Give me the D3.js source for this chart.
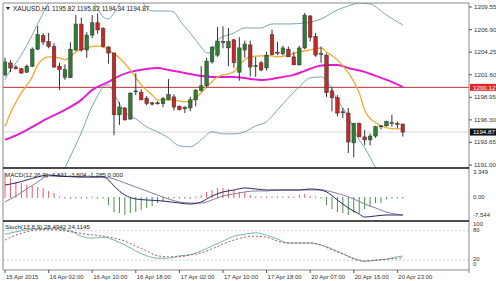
<!DOCTYPE html>
<html>
<head>
<meta charset="utf-8">
<script src="https://cdn.jsdelivr.net/npm/d3@7"></script>
<style>
  body { margin: 0; background: #fff; }
  text { font-family: "Liberation Sans", Arial, sans-serif; }
</style>
</head>
<body>
<div id="chart"></div>
<script>
var w = 496;
var h = 281;

// XAUUSD H1 candles, bar 0 = 15 Apr 18:00
var opens  = [1201.58,1202.98,1202.5,1202.3,1201.9,1202.6,1204.6,1206.2,1205.5,1204.9,1202.6,1201.3,1201.25,1204.5,1207.55,1204.5,1206.25,1207.7,1207.0,1204.86,
              1204.15,1196.9,1197.7,1196.4,1199.6,1199.55,1198.85,1198.3,1198.3,1198.2,1198.7,1199.0,1197.9,1197.6,1197.7,1198.65,1199.75,1200.3,1203.1,1203.9,
              1205.4,1204.75,1205.7,1201.9,1204.5,1205.1,1202.6,1203.0,1202.4,1206.3,1204.25,1204.05,1204.6,1203.7,1202.75,1204.74,1208.5,1206.1,1204.1,1203.9,
              1199.7,1198.9,1197.25,1197.1,1193.6,1195.9,1194.3,1193.95,1194.4,1195.5,1195.6,1196.0,1195.9,1195.82];
var highs  = [1203.6,1203.3,1202.7,1202.4,1202.8,1204.8,1207.3,1206.5,1206.5,1205.3,1203.0,1202.8,1205.4,1208.6,1208.3,1206.6,1208.6,1208.8,1207.2,1204.95,
              1204.2,1198.4,1197.8,1199.5,1201.8,1199.9,1199.1,1198.4,1198.5,1199.0,1201.1,1199.3,1198.0,1197.9,1199.0,1199.9,1202.6,1203.6,1204.95,1207.2,
              1207.3,1207.1,1205.8,1206.0,1205.6,1205.6,1203.7,1203.2,1204.3,1206.9,1205.45,1205.0,1204.9,1204.3,1205.0,1208.85,1208.6,1206.5,1204.9,1204.1,
              1200.2,1199.2,1197.7,1197.7,1195.95,1196.0,1195.1,1194.7,1195.6,1195.7,1196.2,1196.9,1196.1,1195.82];
var lows   = [1201.4,1201.9,1202.2,1201.7,1201.8,1202.5,1204.5,1205.1,1204.7,1202.4,1199.8,1201.0,1201.2,1204.4,1204.3,1203.6,1205.9,1206.4,1204.8,1202.9,
              1194.5,1195.7,1196.2,1196.3,1199.2,1198.6,1198.0,1198.0,1198.1,1197.8,1198.6,1197.4,1197.4,1197.1,1197.3,1197.9,1199.6,1200.1,1202.9,1203.7,
              1204.7,1202.6,1202.4,1200.9,1203.6,1201.4,1201.35,1202.0,1202.1,1203.9,1203.9,1203.9,1203.7,1202.75,1202.7,1204.6,1205.5,1203.7,1203.0,1199.0,
              1197.3,1196.7,1196.5,1192.4,1191.9,1194.3,1193.3,1193.3,1194.2,1195.2,1195.5,1195.5,1195.3,1194.34];
var closes = [1203.1,1202.4,1202.3,1201.8,1202.6,1204.6,1206.3,1205.45,1204.9,1202.5,1202.2,1202.2,1204.6,1207.55,1204.5,1206.25,1207.7,1206.85,1204.9,1204.15,
              1196.9,1197.8,1196.3,1199.45,1199.7,1198.65,1198.2,1198.15,1198.2,1198.8,1199.25,1197.8,1197.5,1197.8,1198.65,1199.8,1200.3,1203.2,1204.85,1205.55,
              1205.5,1205.5,1203.0,1204.75,1205.2,1202.5,1202.7,1202.15,1203.9,1203.95,1204.2,1204.75,1203.7,1202.75,1204.74,1208.6,1206.0,1203.9,1204.0,1199.5,
              1198.9,1197.1,1197.2,1193.7,1195.9,1194.3,1193.95,1194.4,1195.5,1195.6,1196.1,1196.0,1195.8,1194.87];

// indicator lines: [bar, value]
var maFast = [[0,1195.5],[1,1197.12],[3,1199.47],[5,1201.34],[6,1202.75],[8,1203.69],[10,1203.57],[11,1203.34],[12,1203.69],[13,1204.27],[15,1204.74],
              [17,1204.98],[18,1204.86],[19,1204.51],[21,1203.57],[23,1202.16],[25,1200.41],[27,1199.23],[28,1198.65],[30,1198.65],[32,1198.53],[33,1198.41],
              [35,1198.88],[37,1200.17],[39,1201.34],[42,1201.93],[43,1202.75],[45,1203.69],[47,1203.81],[49,1203.81],[50,1203.69],[52,1203.92],[54,1204.27],
              [56,1204.51],[58,1204.74],[59,1204.27],[61,1203.34],[63,1201.81],[65,1199.47],[66,1197.47],[68,1195.95],[70,1195.37],[72,1195.25],[73,1195.25]];
var maSlow = [[0,1193.96],[3,1194.78],[5,1195.48],[8,1196.54],[11,1197.47],[14,1198.65],[16,1199.82],[19,1200.76],[21,1201.46],[23,1201.93],[26,1202.28],
              [28,1202.4],[30,1202.16],[33,1201.81],[36,1201.46],[38,1201.34],[42,1201.34],[45,1201.11],[47,1200.99],[49,1201.11],[51,1201.34],[53,1201.58],
              [55,1202.05],[57,1202.52],[59,1202.75],[61,1202.75],[63,1202.4],[66,1201.93],[68,1201.46],[71,1200.76],[73,1200.17]];
var bbUpper = [[0,1200.99],[1,1202.16],[2,1202.98],[3,1203.92],[5,1206.27],[7,1208.85],[8,1210.02],[10,1212.1],[13,1212.7],[15,1211.0],[17,1209.43],
               [18,1208.38],[19,1208.14],[20,1208.85],[22,1210.6],[24,1210.7],[27,1209.08],[30,1209.08],[31,1208.96],[32,1208.03],[34,1206.5],[36,1204.86],
               [37,1204.16],[38,1204.16],[39,1205.68],[42,1206.5],[44,1207.09],[47,1207.09],[49,1207.56],[52,1207.56],[55,1207.67],[58,1208.14],[61,1209.2],
               [63,1209.67],[65,1210.02],[67,1209.9],[70,1208.61],[73,1207.44]];
var bbLower = [[10,1189.27],[11,1190.67],[14,1194.78],[16,1197.94],[17,1199.12],[18,1200.17],[19,1200.41],[20,1199.47],[21,1198.18],[22,1197.24],
               [23,1196.77],[24,1196.42],[26,1195.48],[28,1194.9],[30,1194.19],[32,1193.25],[34,1193.14],[36,1193.96],[38,1194.9],[40,1194.66],[42,1194.66],
               [44,1194.9],[46,1195.6],[48,1196.07],[50,1197.47],[52,1198.88],[54,1200.17],[56,1201.23],[58,1201.34],[59,1200.88],[61,1198.65],[63,1196.65],
               [65,1193.96],[66,1193.02],[68,1190.67],[70,1188.1]];

var macdHist = [2.78,2.22,1.76,1.65,1.42,1.31,1.19,1.08,0.74,0.51,0.08,-0.1,-0.1,-0.1,-0.1,-0.1,0,-0.08,-0.1,-0.85,
                -1.65,-1.76,-1.99,-1.76,-1.65,-1.42,-1.19,-0.97,-0.63,-0.51,-0.1,-0.1,-0.1,-0.1,-0.1,0.05,0.28,0.63,0.85,1.08,
                1.08,0.97,0.85,0.63,0.63,0.28,0.1,0.05,0.1,0.05,0.1,0.05,0.1,0.05,0.3,0.4,0.2,0.1,-0.1,-0.85,
                -1.31,-1.65,-1.76,-1.99,-1.76,-1.76,-1.31,-1.08,-0.63,-0.63,-0.2,-0.1,-0.1,-0.1];
var macdMain = [[0,1.42],[2,1.65],[4,1.99],[6,2.33],[8,2.56],[10,2.44],[14,2.33],[18,2.33],[19,1.99],[20,1.31],[22,0.28],[24,-0.17],[26,-0.28],
                [29,-0.4],[32,-0.63],[34,-0.74],[36,-0.51],[38,0.17],[40,0.63],[42,0.85],[44,1.08],[46,0.97],[48,0.85],[50,0.85],[52,0.85],[54,0.85],
                [56,0.97],[58,0.85],[59,0.63],[61,-0.28],[63,-1.19],[65,-1.88],[66,-2.22],[68,-2.1],[70,-1.99],[73,-1.99]];
var macdSignal = [[0,-0.51],[2,0.17],[4,0.97],[6,1.76],[8,2.44],[10,2.44],[14,2.33],[18,2.33],[20,2.1],[22,1.65],[24,1.19],[26,0.74],[28,0.28],
                  [30,-0.17],[32,-0.51],[34,-0.63],[36,-0.63],[38,-0.28],[40,0.17],[42,0.4],[44,0.63],[46,0.74],[48,0.74],[50,0.85],[52,0.85],[54,0.85],
                  [56,0.85],[58,0.85],[60,0.63],[62,0.28],[64,-0.17],[66,-0.74],[68,-1.19],[70,-1.65],[73,-1.99]];

var stochK = [[0,73],[3,80],[6,84],[9,84],[12,80],[14,69],[16,65],[18,67],[20,61],[22,51],[24,39],[26,29],[28,24],[30,24],[32,29],[34,31],[36,39],
              [38,49],[40,59],[42,69],[44,73],[46,76],[48,71],[50,63],[52,55],[54,55],[56,55],[58,51],[60,43],[62,33],[64,24],[66,18],[68,20],[70,22],
              [72,27],[73,28.49]];
var stochD = [[0,61],[2,71],[4,78],[6,82],[9,82],[12,78],[15,73],[18,69],[20,65],[22,59],[24,49],[26,39],[28,29],[30,27],[32,27],[34,31],[36,35],
              [38,43],[40,53],[42,61],[44,67],[46,69],[48,67],[50,59],[52,55],[54,55],[56,55],[58,51],[60,41],[62,33],[64,22],[66,18],[68,20],[70,22],
              [72,24],[73,24.11]];

var priceTicks = [1209.55, 1206.90, 1204.25, 1201.60, 1198.95, 1196.30, 1193.65, 1191.00];
var timeTicks = [[0,"15 Apr 2015"],[8,"16 Apr 02:00"],[16,"16 Apr 10:00"],[24,"16 Apr 18:00"],[32,"17 Apr 02:00"],
                 [40,"17 Apr 10:00"],[48,"17 Apr 18:00"],[56,"20 Apr 07:00"],[64,"20 Apr 15:00"],[72,"20 Apr 23:00"]];
var hLine = 1200.12;
var lastPrice = 1194.87;

// layout
var left = 3, right = 469;
var mainTop = 3, mainBot = 168, macdBot = 221, stochBot = 270;

var svg = d3.select("#chart").append("svg")
  .attr("width", w)
  .attr("height", h);

var x = d3.scaleLinear().domain([0, 73]).range([5, 402.8]);
var y = d3.scaleLinear().domain([1190.65, 1210.02]).range([mainBot, mainTop]);
var yM = d3.scaleLinear().domain([-2.67, 3.349]).range([macdBot, mainBot]);
var yS = d3.scaleLinear().domain([0, 100]).range([stochBot, macdBot]);

// clip areas
var defs = svg.append("defs");
[["clipMain", mainTop, mainBot], ["clipMacd", mainBot, macdBot], ["clipStoch", macdBot, stochBot]].forEach(function(c) {
  defs.append("clipPath").attr("id", c[0])
    .append("rect").attr("x", left).attr("y", c[1]).attr("width", right - left).attr("height", c[2] - c[1]);
});

var gMain = svg.append("g").attr("clip-path", "url(#clipMain)");
var gMacd = svg.append("g").attr("clip-path", "url(#clipMacd)");
var gStoch = svg.append("g").attr("clip-path", "url(#clipStoch)");

function lineOf(scale) {
  return d3.line()
    .x(function(d) { return x(d[0]); })
    .y(function(d) { return scale(d[1]); })
    .curve(d3.curveMonotoneX);
}

// horizontal lines
gMain.append("line")
  .attr("x1", left).attr("x2", right)
  .attr("y1", y(lastPrice)).attr("y2", y(lastPrice))
  .attr("stroke", "#d8d8d8").attr("stroke-width", 1);
gMain.append("line")
  .attr("x1", left).attr("x2", right)
  .attr("y1", y(hLine)).attr("y2", y(hLine))
  .attr("stroke", "#b8312f").attr("stroke-width", 1);

// bollinger bands
[bbUpper, bbLower].forEach(function(b) {
  gMain.append("path").datum(b)
    .attr("d", lineOf(y))
    .attr("fill", "none")
    .attr("stroke", "#5a8f9a")
    .attr("stroke-width", 0.8);
});

// moving averages
gMain.append("path").datum(maSlow)
  .attr("d", lineOf(y))
  .attr("fill", "none")
  .attr("stroke", "#e020d0")
  .attr("stroke-width", 2);

gMain.append("path").datum(maFast)
  .attr("d", lineOf(y))
  .attr("fill", "none")
  .attr("stroke", "#f0a830")
  .attr("stroke-width", 1.3);

// candles
var candles = opens.map(function(o, i) {
  return { i: i, o: o, h: highs[i], l: lows[i], c: closes[i] };
});

var cg = gMain.selectAll(".candle")
  .data(candles)
  .enter()
  .append("g")
  .attr("class", "candle");

cg.append("line")
  .attr("x1", function(d) { return x(d.i); })
  .attr("x2", function(d) { return x(d.i); })
  .attr("y1", function(d) { return y(d.h); })
  .attr("y2", function(d) { return y(d.l); })
  .attr("stroke", "#333")
  .attr("stroke-width", 1);

cg.append("rect")
  .attr("x", function(d) { return x(d.i) - 1.8; })
  .attr("width", 3.6)
  .attr("y", function(d) { return y(Math.max(d.o, d.c)); })
  .attr("height", function(d) { return Math.max(1, Math.abs(y(d.o) - y(d.c))); })
  .attr("fill", function(d) { return d.c >= d.o ? "#2e7d32" : "#c62828"; })
  .attr("stroke", "#333")
  .attr("stroke-width", 0.5);

// MACD histogram
gMacd.selectAll(".hist")
  .data(macdHist)
  .enter()
  .append("line")
  .attr("class", "hist")
  .attr("x1", function(d, i) { return x(i); })
  .attr("x2", function(d, i) { return x(i); })
  .attr("y1", function(d) { return yM(0) + (d >= 0 ? 0.5 : -0.5); })
  .attr("y2", function(d) {
    var v = yM(d);
    if (Math.abs(v - yM(0)) < 1.5) v = yM(0) + (d >= 0 ? -1 : 1);
    return v;
  })
  .attr("stroke", function(d) { return d >= 0 ? "#d9606a" : "#4f8a4f"; })
  .attr("stroke-width", 1);

gMacd.append("path").datum(macdSignal)
  .attr("d", lineOf(yM))
  .attr("fill", "none")
  .attr("stroke", "#8a7aa0")
  .attr("stroke-width", 1);

gMacd.append("path").datum(macdMain)
  .attr("d", lineOf(yM))
  .attr("fill", "none")
  .attr("stroke", "#2a2a6a")
  .attr("stroke-width", 1);

// stochastic levels + lines
[80, 20].forEach(function(lv) {
  gStoch.append("line")
    .attr("x1", left).attr("x2", right)
    .attr("y1", yS(lv)).attr("y2", yS(lv))
    .attr("stroke", "#aaa")
    .attr("stroke-width", 0.6)
    .attr("stroke-dasharray", "2,2");
});

gStoch.append("path").datum(stochK)
  .attr("d", lineOf(yS))
  .attr("fill", "none")
  .attr("stroke", "#5fb0a8")
  .attr("stroke-width", 0.9);

gStoch.append("path").datum(stochD)
  .attr("d", lineOf(yS))
  .attr("fill", "none")
  .attr("stroke", "#b04040")
  .attr("stroke-width", 0.9)
  .attr("stroke-dasharray", "2,2");

// frame
svg.append("line").attr("x1", left).attr("x2", right).attr("y1", mainTop).attr("y2", mainTop)
  .attr("stroke", "#888").attr("stroke-width", 1);
svg.append("line").attr("x1", left).attr("x2", left).attr("y1", mainTop).attr("y2", stochBot)
  .attr("stroke", "#888").attr("stroke-width", 1);
svg.append("line").attr("x1", right).attr("x2", right).attr("y1", mainTop).attr("y2", stochBot + 3)
  .attr("stroke", "#888").attr("stroke-width", 1);
[mainBot, macdBot].forEach(function(yy) {
  svg.append("line").attr("x1", left).attr("x2", right).attr("y1", yy).attr("y2", yy)
    .attr("stroke", "#111").attr("stroke-width", 1.5);
});
svg.append("line").attr("x1", left).attr("x2", right).attr("y1", stochBot).attr("y2", stochBot)
  .attr("stroke", "#888").attr("stroke-width", 1);

// price axis
var ax = svg.append("g").attr("class", "paxis");
ax.selectAll(".pt")
  .data(priceTicks)
  .enter()
  .append("text")
  .attr("x", right + 5)
  .attr("y", function(d) { return y(d) + 2; })
  .attr("font-size", 6.2)
  .attr("fill", "#333")
  .text(function(d) { return d.toFixed(2); });
ax.selectAll(".ptick")
  .data(priceTicks)
  .enter()
  .append("line")
  .attr("x1", right).attr("x2", right + 3)
  .attr("y1", function(d) { return y(d); })
  .attr("y2", function(d) { return y(d); })
  .attr("stroke", "#555");

// price boxes
function priceBox(v, bg) {
  svg.append("rect")
    .attr("x", right + 1).attr("y", y(v) - 3.5)
    .attr("width", 26).attr("height", 7)
    .attr("fill", bg);
  svg.append("text")
    .attr("x", right + 4).attr("y", y(v) + 2.2)
    .attr("font-size", 6.2)
    .attr("fill", "#fff")
    .text(v.toFixed(2));
}
priceBox(hLine, "#e0262a");
priceBox(lastPrice, "#111");

// indicator axes labels
function sideLabel(txt, yy) {
  svg.append("text")
    .attr("x", right + 4).attr("y", yy)
    .attr("font-size", 6)
    .attr("fill", "#333")
    .text(txt);
}
sideLabel("3.349", mainBot + 6);
sideLabel("0.00", yM(0) + 2);
sideLabel("-7.544", macdBot - 4);
sideLabel("100", macdBot + 5);
sideLabel("80", yS(80) + 1);
sideLabel("20", yS(20) + 1);
sideLabel("0", stochBot - 4);

// time axis
var tg = svg.append("g");
tg.selectAll(".tt")
  .data(timeTicks)
  .enter()
  .append("line")
  .attr("x1", function(d) { return x(d[0]); })
  .attr("x2", function(d) { return x(d[0]); })
  .attr("y1", stochBot).attr("y2", stochBot + 3)
  .attr("stroke", "#555");
tg.selectAll(".tl")
  .data(timeTicks)
  .enter()
  .append("text")
  .attr("x", function(d) { return x(d[0]) + 1; })
  .attr("y", stochBot + 9)
  .attr("font-size", 6)
  .attr("fill", "#333")
  .text(function(d) { return d[1]; });

// panel titles
svg.append("path")
  .attr("d", "M6,7 L10,7 L8,10 Z")
  .attr("fill", "#222");
svg.append("text")
  .attr("x", 13).attr("y", 10.5)
  .attr("font-size", 6.5)
  .attr("fill", "#222")
  .text("XAUUSD,H1  1195.82 1195.82 1194.34 1194.87");
svg.append("text")
  .attr("x", 5).attr("y", mainBot + 9)
  .attr("font-size", 6.2)
  .attr("fill", "#222")
  .text("MACD(12,26,9) -4.831 -3.804 -1.285 0.000");
svg.append("text")
  .attr("x", 5).attr("y", macdBot + 8)
  .attr("font-size", 6.2)
  .attr("fill", "#222")
  .text("Stoch(13,8,9) 28.4942 24.1145");
</script>
</body>
</html>
